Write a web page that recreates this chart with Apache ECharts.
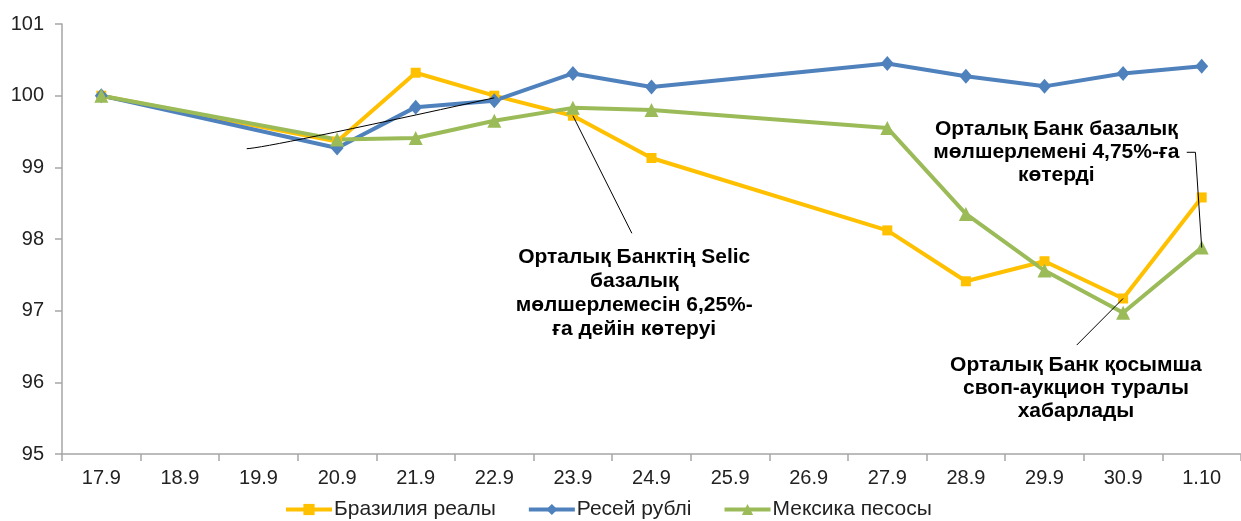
<!DOCTYPE html>
<html>
<head>
<meta charset="utf-8">
<script src="https://cdn.jsdelivr.net/npm/echarts@6/dist/echarts.min.js"></script>
<style>
html,body{margin:0;padding:0;background:#fff;}
#chart{width:1241px;height:521px;}
</style>
</head>
<body>
<div id="chart"></div>
<script>
// ---- data ----
const categories = ['17.9','18.9','19.9','20.9','21.9','22.9','23.9','24.9','25.9','26.9','27.9','28.9','29.9','30.9','1.10'];
const seriesNames = ['Бразилия реалы','Ресей рублі','Мексика песосы'];
const brazil = [100, null, null, 99.36, 100.32, 100.0, 99.72, 99.13, null, null, 98.12, 97.41, 97.69, 97.17, 98.58];
const russia = [100, null, null, 99.27, 99.84, 99.93, 100.31, 100.12, null, null, 100.45, 100.27, 100.13, 100.31, 100.41];
const mexico = [100, null, null, 99.39, 99.41, 99.65, 99.83, 99.80, null, null, 99.55, 98.35, 97.56, 96.97, 97.88];
const yTicks = {min: 95, max: 101, interval: 1};

const noteSelic = 'Орталық Банктің Selic\nбазалық\nмөлшерлемесін 6,25%-\nға дейін көтеруі';
const noteRate = 'Орталық Банк базалық\nмөлшерлемені 4,75%-ға\nкөтерді';
const noteSwap = 'Орталық Банк қосымша\nсвоп-аукцион туралы\nхабарлады';

const FONT = '"Liberation Sans", Arial, sans-serif';
const colors = ['#FFC000', '#4F81BD', '#9BBB59'];

const chart = echarts.init(document.getElementById('chart'));

function mkSeries(name, data, color, symbol, size) {
  return {
    name: name, type: 'line', data: data, connectNulls: true,
    symbol: symbol, symbolSize: size,
    lineStyle: {color: color, width: 4},
    itemStyle: {color: color},
    emphasis: {disabled: true},
    animation: false
  };
}

const option = {
  animation: false,
  textStyle: {fontFamily: FONT},
  grid: {left: 62, right: 0, top: 24, bottom: 67},
  legend: {
    left: 284, top: 499, padding: 0,
    itemWidth: 46, itemHeight: 14, itemGap: 31,
    lineStyle: {width: 4},
    textStyle: {fontSize: 21, color: '#222', fontFamily: FONT, padding: [0, 0, 0, -3]},
    data: seriesNames
  },
  xAxis: {
    type: 'category', data: categories, boundaryGap: true,
    axisLine: {lineStyle: {color: '#A6A6A6', width: 1.5}},
    axisTick: {show: true, interval: 0, length: 7, lineStyle: {color: '#A6A6A6', width: 1.5}},
    axisLabel: {interval: 0, fontSize: 20, color: '#222', margin: 14, fontFamily: FONT},
    splitLine: {show: false}
  },
  yAxis: {
    type: 'value', min: yTicks.min, max: yTicks.max, interval: yTicks.interval,
    axisLine: {show: true, lineStyle: {color: '#A6A6A6', width: 1.5}},
    axisTick: {show: true, length: 7, lineStyle: {color: '#A6A6A6', width: 1.5}},
    axisLabel: {fontSize: 20, color: '#222', margin: 18, fontFamily: FONT},
    splitLine: {show: false}
  },
  series: [
    mkSeries(seriesNames[0], brazil, colors[0], 'rect', 10),
    mkSeries(seriesNames[1], russia, colors[1], 'diamond', [13, 15]),
    mkSeries(seriesNames[2], mexico, colors[2], 'triangle', 14)
  ]
};
chart.setOption(option);

// pixel helper: fractional category index + value -> pixel
function px(i, v) {
  const a = chart.convertToPixel({gridIndex: 0}, [0, v]);
  const b = chart.convertToPixel({gridIndex: 0}, [1, v]);
  return [a[0] + (b[0] - a[0]) * i, a[1]];
}

const textStyle = {font: 'bold 21px ' + FONT, fill: '#000', align: 'center', verticalAlign: 'middle'};
const lineStyle = {stroke: '#000', lineWidth: 1, fill: null};

function textBlock(text, i, v, lh) {
  const p = px(i, v);
  return {type: 'text', z: 100, style: Object.assign({}, textStyle, {text: text, x: p[0], y: p[1], lineHeight: lh})};
}

const s1 = px(1.85, 99.26), c1 = px(2.1, 99.27), e1 = px(5, 99.97);
const a2 = px(6, brazil[6]), b2 = px(6.75, 98.08);
const a3 = px(13.81, 99.21), m3 = px(13.92, 99.21), b3 = px(14, mexico[14]);
const a4 = px(13, brazil[13]), b4 = px(12.41, 96.52);

chart.setOption({
  graphic: [
    {type: 'bezierCurve', z: 100, shape: {x1: s1[0], y1: s1[1], cpx1: c1[0], cpy1: c1[1], x2: e1[0], y2: e1[1]}, style: lineStyle},
    {type: 'line', z: 100, shape: {x1: a2[0], y1: a2[1], x2: b2[0], y2: b2[1]}, style: lineStyle},
    {type: 'polyline', z: 100, shape: {points: [a3, m3, b3]}, style: lineStyle},
    {type: 'line', z: 100, shape: {x1: a4[0], y1: a4[1], x2: b4[0], y2: b4[1]}, style: lineStyle},
    textBlock(noteSelic, 6.78, 97.25, 24),
    textBlock(noteRate, 12.15, 99.21, 23),
    textBlock(noteSwap, 12.4, 95.92, 23)
  ]
});
</script>
</body>
</html>
